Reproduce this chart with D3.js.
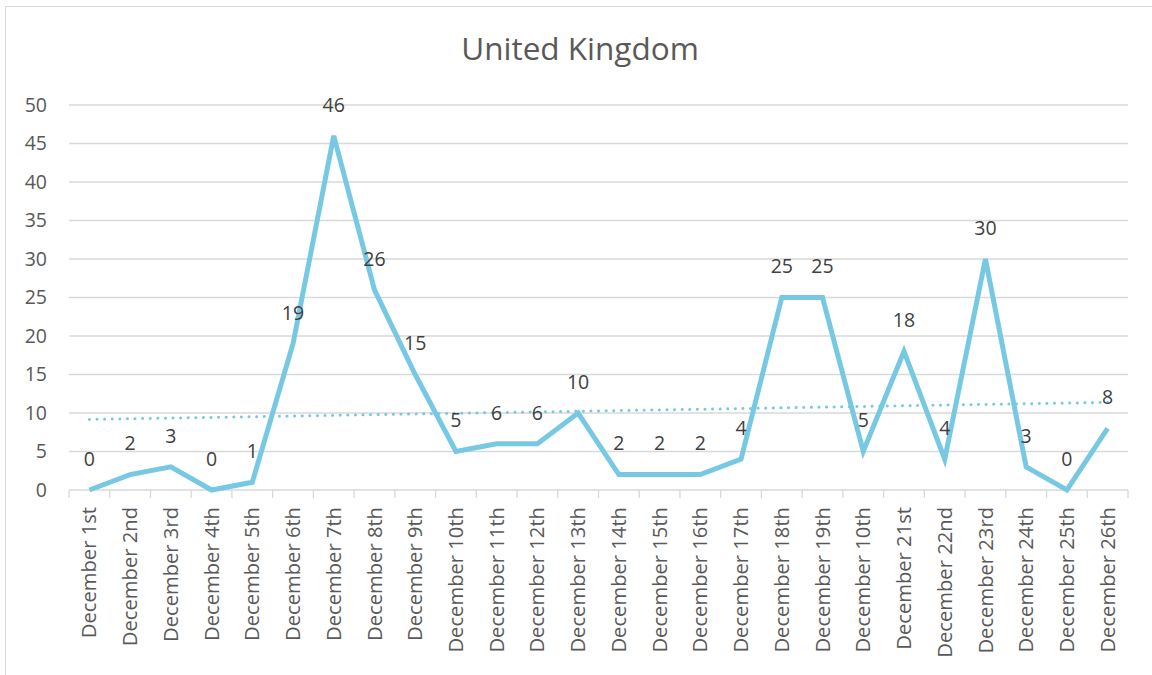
<!DOCTYPE html>
<html>
<head>
<meta charset="utf-8">
<script src="https://cdn.jsdelivr.net/npm/d3@7"></script>
<style>
  body { margin: 0; background: #fff; }
  svg { font-family: "Open Sans", sans-serif; }
</style>
</head>
<body>
<svg id="chart" width="1152" height="675"></svg>
<script>
// chart data
const days = ["December 1st", "December 2nd", "December 3rd", "December 4th", "December 5th",
  "December 6th", "December 7th", "December 8th", "December 9th", "December 10th",
  "December 11th", "December 12th", "December 13th", "December 14th", "December 15th",
  "December 16th", "December 17th", "December 18th", "December 19th", "December 10th",
  "December 21st", "December 22nd", "December 23rd", "December 24th", "December 25th",
  "December 26th"];
const counts = [0, 2, 3, 0, 1, 19, 46, 26, 15, 5, 6, 6, 10, 2, 2, 2, 4, 25, 25, 5, 18, 4, 30, 3, 0, 8];
const yTicks = [0, 5, 10, 15, 20, 25, 30, 35, 40, 45, 50];

const svg = d3.select('#chart');

// outer chart border (cropped on right / bottom)
svg.append('rect')
  .attr('x', 5.5).attr('y', 6.5)
  .attr('width', 1200).attr('height', 700)
  .attr('fill', '#fff')
  .attr('stroke', '#d9d9d9');

const plotL = 69, plotR = 1128, plotT = 105, plotB = 490;

const x = d3.scaleBand()
  .domain(d3.range(days.length))
  .range([plotL, plotR]);

const y = d3.scaleLinear()
  .domain([0, 50])
  .range([plotB, plotT]);

const cx = i => x(i) + x.bandwidth() / 2;

// title
svg.append('text')
  .attr('x', 580).attr('y', 60)
  .attr('text-anchor', 'middle')
  .attr('font-size', 31.5)
  .attr('fill', '#595959')
  .text('United Kingdom');

// gridlines
svg.append('g')
  .selectAll('line')
  .data(yTicks.filter(d => d > 0))
  .enter().append('line')
  .attr('x1', plotL).attr('x2', plotR)
  .attr('y1', d => y(d)).attr('y2', d => y(d))
  .attr('stroke', '#d9d9d9')
  .attr('stroke-width', 1.3);

// y axis labels
svg.append('g')
  .selectAll('text')
  .data(yTicks)
  .enter().append('text')
  .attr('x', 47)
  .attr('y', d => y(d))
  .attr('dy', '0.35em')
  .attr('text-anchor', 'end')
  .attr('font-size', 19.5)
  .attr('fill', '#595959')
  .text(d => d);

// x axis
svg.append('line')
  .attr('x1', plotL).attr('x2', plotR)
  .attr('y1', plotB).attr('y2', plotB)
  .attr('stroke', '#d9d9d9')
  .attr('stroke-width', 1.3);

svg.append('g')
  .selectAll('line')
  .data(d3.range(days.length + 1))
  .enter().append('line')
  .attr('x1', i => plotL + i * x.bandwidth())
  .attr('x2', i => plotL + i * x.bandwidth())
  .attr('y1', plotB).attr('y2', plotB + 8)
  .attr('stroke', '#d9d9d9')
  .attr('stroke-width', 1.3);

svg.append('g')
  .selectAll('text')
  .data(days)
  .enter().append('text')
  .attr('transform', (d, i) => `translate(${cx(i)}, 507) rotate(-90)`)
  .attr('text-anchor', 'end')
  .attr('dy', '0.35em')
  .attr('font-size', 20.2)
  .attr('fill', '#595959')
  .text(d => d);

// linear trendline (least squares over the series)
const n = counts.length;
const xs = d3.range(1, n + 1);
const mx = d3.mean(xs), my = d3.mean(counts);
const slope = d3.sum(xs, (v, i) => (v - mx) * (counts[i] - my)) / d3.sum(xs, v => (v - mx) * (v - mx));
const icpt = my - slope * mx;

svg.append('line')
  .attr('x1', cx(0)).attr('x2', cx(n - 1))
  .attr('y1', y(icpt + slope * 1))
  .attr('y2', y(icpt + slope * n))
  .attr('stroke', '#77c9e3')
  .attr('stroke-width', 3)
  .attr('stroke-linecap', 'round')
  .attr('stroke-dasharray', '0.1 7.5');

// main line
const line = d3.line()
  .x((d, i) => cx(i))
  .y(d => y(d));

svg.append('path')
  .datum(counts)
  .attr('d', line)
  .attr('fill', 'none')
  .attr('stroke', '#77c9e3')
  .attr('stroke-width', 5)
  .attr('stroke-linejoin', 'miter');

// data labels
svg.append('g')
  .selectAll('text')
  .data(counts)
  .enter().append('text')
  .attr('x', (d, i) => cx(i))
  .attr('y', d => y(d) - 31)
  .attr('dy', '0.35em')
  .attr('text-anchor', 'middle')
  .attr('font-size', 19.5)
  .attr('fill', '#404040')
  .text(d => d);
</script>
</body>
</html>
